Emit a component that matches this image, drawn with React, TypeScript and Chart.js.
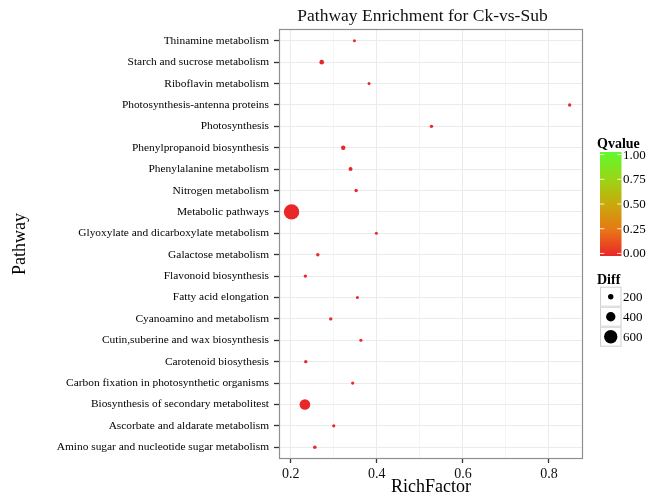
import React, { useEffect, useRef } from "react";
import { Chart, registerables } from "chart.js";

Chart.register(...registerables);

// ---------- data ----------
const pathways = [
  "Thinamine metabolism",
  "Starch and sucrose metabolism",
  "Riboflavin metabolism",
  "Photosynthesis-antenna proteins",
  "Photosynthesis",
  "Phenylpropanoid biosynthesis",
  "Phenylalanine metabolism",
  "Nitrogen metabolism",
  "Metabolic pathways",
  "Glyoxylate and dicarboxylate metabolism",
  "Galactose metabolism",
  "Flavonoid biosynthesis",
  "Fatty acid elongation",
  "Cyanoamino and metabolism",
  "Cutin,suberine and wax biosynthesis",
  "Carotenoid biosythesis",
  "Carbon fixation in photosynthetic organisms",
  "Biosynthesis of secondary metabolitest",
  "Ascorbate and aldarate metabolism",
  "Amino sugar and nucleotide sugar metabolism",
];
const richFactor = [
  0.348, 0.272, 0.382, 0.848, 0.527, 0.322, 0.339, 0.352, 0.202, 0.399,
  0.263, 0.234, 0.355, 0.293, 0.363, 0.235, 0.344, 0.233, 0.3, 0.256,
];
const diffCounts = [
  80, 160, 80, 100, 100, 150, 130, 100, 700, 80,
  100, 100, 80, 100, 90, 100, 90, 460, 90, 110,
];
const qValues = [
  0.01, 0.0, 0.01, 0.02, 0.01, 0.0, 0.0, 0.01, 0.0, 0.01,
  0.01, 0.01, 0.01, 0.01, 0.01, 0.01, 0.01, 0.0, 0.01, 0.01,
];
const xTickValues = [0.2, 0.3, 0.4, 0.5, 0.6, 0.7, 0.8];
const qLegendTicks = [0, 0.25, 0.5, 0.75, 1];
const diffLegendValues = [200, 400, 600];

// ---------- style ----------
const FONT = "'Liberation Serif', 'Times New Roman', serif";
const gradientStops: [number, number[]][] = [
  [0, [233, 38, 40]],
  [0.25, [232, 119, 22]],
  [0.5, [200, 170, 12]],
  [0.75, [152, 215, 22]],
  [1, [95, 250, 45]],
];

function radiusFor(d: number) {
  return 0.7 + 0.01 * d;
}
function colorFor(q: number) {
  for (let i = 1; i < gradientStops.length; i++) {
    const [p1, c1] = gradientStops[i];
    const [p0, c0] = gradientStops[i - 1];
    if (q <= p1) {
      const t = (q - p0) / (p1 - p0);
      const c = c0.map((v, k) => Math.round(v + (c1[k] - v) * t));
      return `rgb(${c[0]},${c[1]},${c[2]})`;
    }
  }
  const c = gradientStops[gradientStops.length - 1][1];
  return `rgb(${c[0]},${c[1]},${c[2]})`;
}
const isMajor = (v: number) => Math.round(v * 10) % 2 === 0;

const panelBorder = {
  id: "panelBorder",
  afterDatasetsDraw(chart: any) {
    const { ctx, chartArea } = chart;
    ctx.save();
    ctx.strokeStyle = "#8f8f8f";
    ctx.lineWidth = 1.2;
    ctx.strokeRect(
      chartArea.left + 0.5,
      chartArea.top + 0.5,
      chartArea.right - chartArea.left - 1,
      chartArea.bottom - chartArea.top - 1
    );
    ctx.restore();
  },
};

const titleShift = {
  id: "titleShift",
  afterLayout(chart: any) {
    const t = chart.titleBlock;
    if (t) {
      t.left = t.left - 17;
    }
  },
};

const sideLegend = {
  id: "sideLegend",
  afterDraw(chart: any) {
    const ctx = chart.ctx as CanvasRenderingContext2D;
    ctx.save();
    ctx.fillStyle = "#000";
    ctx.textAlign = "left";
    ctx.textBaseline = "alphabetic";
    ctx.font = `bold 14px ${FONT}`;
    ctx.fillText("Qvalue", 597, 147.5);

    const bx = 600;
    const bw = 21.5;
    const bt = 152;
    const bb = 256;
    const grad = ctx.createLinearGradient(0, bb, 0, bt);
    gradientStops.forEach(([p, c]) => grad.addColorStop(p, `rgb(${c[0]},${c[1]},${c[2]})`));
    ctx.fillStyle = grad;
    ctx.fillRect(bx, bt, bw, bb - bt);

    const bin = (bb - bt) / 20;
    ctx.font = `13px ${FONT}`;
    ctx.textBaseline = "middle";
    qLegendTicks.forEach((q) => {
      const y = bb - bin / 2 - q * (bb - bt - bin);
      ctx.strokeStyle = "rgba(255,255,255,0.85)";
      ctx.lineWidth = 1;
      ctx.beginPath();
      ctx.moveTo(bx, y);
      ctx.lineTo(bx + 4.3, y);
      ctx.moveTo(bx + bw - 4.3, y);
      ctx.lineTo(bx + bw, y);
      ctx.stroke();
      ctx.fillStyle = "#000";
      ctx.fillText(q.toFixed(2), 623, y + 0.5);
    });

    ctx.textBaseline = "alphabetic";
    ctx.font = `bold 14px ${FONT}`;
    ctx.fillText("Diff", 597, 283.5);

    const kTop = 286.7;
    const kH = 20;
    diffLegendValues.forEach((d, i) => {
      const y0 = kTop + i * kH;
      ctx.fillStyle = "#fff";
      ctx.fillRect(bx, y0, bw, kH);
      ctx.strokeStyle = "#d0d0d0";
      ctx.lineWidth = 1;
      ctx.strokeRect(bx + 0.5, y0 + 0.5, bw - 1, kH - 1);
      ctx.fillStyle = "#000";
      ctx.beginPath();
      ctx.arc(bx + bw / 2, y0 + kH / 2, radiusFor(d), 0, Math.PI * 2);
      ctx.fill();
      ctx.font = `13px ${FONT}`;
      ctx.textBaseline = "middle";
      ctx.fillText(String(d), 623, y0 + kH / 2 + 0.5);
    });
    ctx.restore();
  },
};

export default function App() {
  const ref = useRef<HTMLCanvasElement>(null);

  useEffect(() => {
    Chart.defaults.font.family = FONT;
    const chart = new Chart(ref.current as HTMLCanvasElement, {
      type: "bubble",
      data: {
        datasets: [
          {
            label: "Diff",
            data: pathways.map((_, i) => ({
              x: richFactor[i],
              y: i,
              r: radiusFor(diffCounts[i]),
            })),
            backgroundColor: qValues.map(colorFor),
            borderWidth: 0,
            hoverRadius: 0,
          },
        ],
      },
      options: {
        responsive: false,
        animation: false,
        events: [],
        layout: { padding: { left: 0, right: 68, top: 0, bottom: 0 } },
        plugins: {
          legend: { display: false },
          tooltip: { enabled: false },
          title: {
            display: true,
            text: "Pathway Enrichment for Ck-vs-Sub",
            fullSize: false,
            color: "#111",
            font: { family: FONT, size: 17.5, weight: "normal", lineHeight: 1.2 },
            padding: { top: 6.3, bottom: 1.7 },
          },
        },
        scales: {
          x: {
            type: "linear",
            min: 0.1728,
            max: 0.879,
            afterBuildTicks: (s: any) => {
              s.ticks = xTickValues.map((v) => ({ value: v }));
            },
            afterFit: (s: any) => {
              s.height = 37;
            },
            ticks: {
              autoSkip: false,
              maxRotation: 0,
              padding: 2.5,
              color: "#111",
              font: { family: FONT, size: 14 },
              callback: (v: any) => (isMajor(Number(v)) ? Number(v).toFixed(1) : ""),
            },
            grid: {
              color: (c: any) => (c.tick && isMajor(c.tick.value) ? "#ebebeb" : "#f5f5f5"),
              lineWidth: 1,
              tickLength: 4,
              tickWidth: 1.3,
              tickColor: (c: any) => (c.tick && isMajor(c.tick.value) ? "#333" : "rgba(0,0,0,0)"),
            },
            border: { display: false },
            title: {
              display: true,
              text: "RichFactor",
              color: "#000",
              font: { family: FONT, size: 18, lineHeight: 1 },
              padding: { top: 0, bottom: 0 },
            },
          },
          y: {
            type: "linear",
            min: -0.55,
            max: 19.55,
            reverse: true,
            afterBuildTicks: (s: any) => {
              s.ticks = pathways.map((_, i) => ({ value: i }));
            },
            afterFit: (s: any) => {
              s.width = 279;
            },
            ticks: {
              autoSkip: false,
              padding: 5,
              color: "#000",
              font: { family: FONT, size: 11.4 },
              callback: (v: any) => pathways[Number(v)] ?? "",
            },
            grid: {
              color: "#ebebeb",
              lineWidth: 1,
              tickLength: 5,
              tickWidth: 1.3,
              tickColor: "#333",
            },
            border: { display: false },
            title: {
              display: true,
              text: "Pathway",
              color: "#000",
              font: { family: FONT, size: 18, lineHeight: 1 },
              padding: { top: 11, bottom: 0 },
            },
          },
        },
      },
      plugins: [panelBorder, titleShift, sideLegend],
    } as any);
    return () => chart.destroy();
  }, []);

  return (
    <div style={{ position: "fixed", left: 0, top: 0, width: 651, height: 496, background: "#fff" }}>
      <canvas ref={ref} width={651} height={496} style={{ display: "block" }} />
    </div>
  );
}
